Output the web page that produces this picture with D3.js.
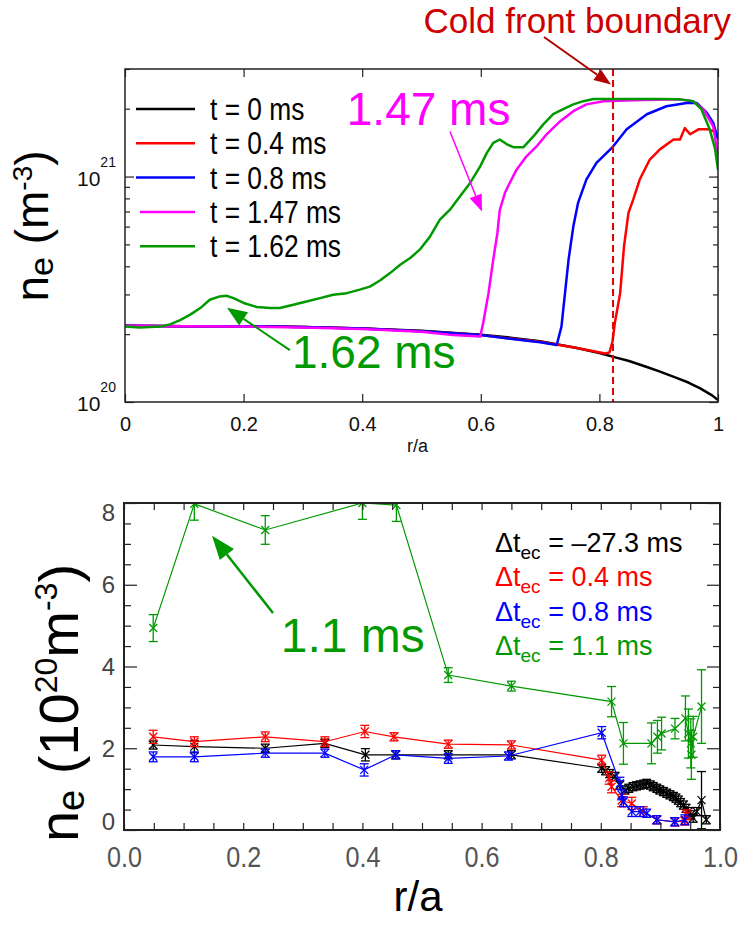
<!DOCTYPE html>
<html><head><meta charset="utf-8">
<script src="https://cdn.jsdelivr.net/npm/d3@7"></script>
<style>
body{margin:0;background:#fff;}
svg{display:block;font-family:"Liberation Sans",Arial,Helvetica,sans-serif;}
</style></head><body>
<svg id="c" width="739" height="925"></svg>
<script>
// ===================== DATA =====================
// Top panel: n_e profiles (units of 1e20 m^-3) vs r/a
const topNames  = ["t = 0 ms","t = 0.4 ms","t = 0.8 ms","t = 1.47 ms","t = 1.62 ms"];
const topColors = ["#000000","#ff0000","#0000ff","#ff00ff","#009a00"];
const ne_t0 = [[0,2.18],[0.1,2.17],[0.2,2.17],[0.3,2.15],[0.4,2.12],[0.5,2.07],[0.6,1.99],[0.65,1.93],[0.7,1.86],[0.73,1.80],[0.76,1.74],[0.8,1.65],[0.83,1.57],[0.85,1.52],[0.88,1.43],[0.9,1.37],[0.93,1.28],[0.95,1.22],[0.97,1.15],[0.99,1.07],[1.0,1.02]];
const ne_t04 = [[0,2.18],[0.1,2.17],[0.2,2.17],[0.3,2.15],[0.4,2.12],[0.5,2.06],[0.6,1.98],[0.7,1.85],[0.76,1.74],[0.81,1.64],[0.817,1.66],[0.822,1.85],[0.826,2.24],[0.835,3.04],[0.8415,4.9],[0.849,6.9],[0.857,7.9],[0.868,9.7],[0.885,11.9],[0.902,13.2],[0.925,14.6],[0.936,14.6],[0.944,16.4],[0.953,15.4],[0.967,16.2],[0.984,16.2],[0.992,15.9],[1.0,15.1]];
const ne_t08 = [[0,2.18],[0.1,2.17],[0.2,2.17],[0.3,2.15],[0.4,2.12],[0.5,2.06],[0.6,1.98],[0.7,1.84],[0.728,1.79],[0.736,2.16],[0.742,3.04],[0.748,4.28],[0.756,6.0],[0.764,7.64],[0.778,9.7],[0.795,11.5],[0.821,13.4],[0.846,16.2],[0.88,18.9],[0.913,20.5],[0.947,21.2],[0.964,21.2],[0.981,19.2],[0.992,17.3],[1.0,14.6]];
const ne_t147 = [[0,2.18],[0.1,2.17],[0.2,2.16],[0.3,2.14],[0.4,2.11],[0.5,2.05],[0.553,1.98],[0.599,1.95],[0.604,2.24],[0.613,3.04],[0.621,4.28],[0.628,5.62],[0.632,7.1],[0.641,8.5],[0.646,9.06],[0.66,10.7],[0.677,12.3],[0.694,13.6],[0.711,15.4],[0.734,17.6],[0.756,19.5],[0.778,20.9],[0.807,21.6],[0.857,21.8],[0.936,22.0],[0.958,21.6],[0.975,19.9],[0.992,16.7],[1.0,12.3]];
const ne_t162 = [[0,2.16],[0.025,2.14],[0.059,2.16],[0.076,2.21],[0.093,2.31],[0.11,2.44],[0.127,2.61],[0.143,2.84],[0.16,2.94],[0.171,2.96],[0.183,2.89],[0.2,2.75],[0.222,2.64],[0.245,2.61],[0.261,2.61],[0.284,2.70],[0.306,2.79],[0.329,2.89],[0.351,2.99],[0.374,3.04],[0.396,3.15],[0.413,3.25],[0.43,3.46],[0.447,3.73],[0.464,4.06],[0.481,4.35],[0.497,4.74],[0.514,5.4],[0.531,6.44],[0.548,7.13],[0.565,8.17],[0.582,9.37],[0.599,11.1],[0.61,12.7],[0.621,14.1],[0.632,14.6],[0.644,13.9],[0.655,13.5],[0.672,13.5],[0.689,15.1],[0.705,17.0],[0.722,18.9],[0.739,19.9],[0.756,20.9],[0.773,21.6],[0.79,22.1],[0.902,22.1],[0.936,22.0],[0.958,21.6],[0.972,19.9],[0.986,16.2],[0.995,13.3],[1.0,10.7]];
const topSeries = [ne_t0, ne_t04, ne_t08, ne_t147, ne_t162];
const topXTicks = [0,0.2,0.4,0.6,0.8,1];
const topYMajor = [1,10];
const topYMinor = [2,3,4,5,6,7,8,9,20,30];
const coldFront = 0.823;

// Bottom panel: [r/a, n_e (1e20 m^-3), error]
const botNames  = ["–27.3 ms","0.4 ms","0.8 ms","1.1 ms"];
const botColors = ["#000000","#ff0000","#0000ff","#009a00"];
const nb_black = [[0.049,2.08,0.1],[0.118,2.04,0.15],[0.237,2.0,0.1],[0.337,2.12,0.1],[0.405,1.84,0.15],[0.456,1.84,0.1],[0.544,1.84,0.1],[0.650,1.84,0.1],[0.8015,1.51,0.1],[0.808,1.45,0.1],[0.815,1.38,0.1],[0.824,1.31,0.1],[0.832,1.1,0.1],[0.8406,0.98,0.1],[0.847,1.02,0.1],[0.854,1.06,0.1],[0.860,1.08,0.1],[0.866,1.1,0.1],[0.872,1.12,0.1],[0.877,1.14,0.1],[0.883,1.1,0.1],[0.888,1.06,0.1],[0.894,1.02,0.1],[0.899,0.98,0.1],[0.905,0.94,0.1],[0.9105,0.9,0.1],[0.916,0.86,0.1],[0.9217,0.82,0.1],[0.926,0.78,0.1],[0.930,0.73,0.1],[0.934,0.67,0.1],[0.9385,0.61,0.1],[0.943,0.53,0.1],[0.947,0.45,0.1],[0.951,0.37,0.1],[0.955,0.29,0.1],[0.961,0.45,0.1],[0.969,0.73,0.7],[0.977,0.25,0.1]];
const nb_red = [[0.049,2.28,0.16],[0.118,2.16,0.12],[0.237,2.28,0.12],[0.337,2.16,0.12],[0.404,2.41,0.15],[0.453,2.28,0.1],[0.544,2.10,0.1],[0.650,2.08,0.1],[0.8015,1.71,0.12],[0.814,1.27,0.15],[0.818,1.06,0.15],[0.835,0.72,0.15],[0.852,0.65,0.15],[0.871,0.45,0.12],[0.894,0.25,0.1],[0.9245,0.2,0.1],[0.941,0.22,0.1],[0.944,0.37,0.12]];
const nb_blue = [[0.049,1.79,0.12],[0.118,1.79,0.12],[0.237,1.88,0.1],[0.337,1.88,0.1],[0.403,1.47,0.15],[0.456,1.84,0.1],[0.544,1.75,0.12],[0.645,1.81,0.1],[0.8015,2.38,0.15],[0.832,1.14,0.15],[0.835,0.86,0.12],[0.838,0.69,0.12],[0.852,0.45,0.12],[0.866,0.45,0.12],[0.877,0.41,0.1],[0.894,0.25,0.1],[0.924,0.2,0.1],[0.941,0.25,0.12]];
const nb_green = [[0.049,4.94,0.33],[0.118,7.98,0.4],[0.237,7.34,0.35],[0.40,8.0,0.4],[0.457,7.95,0.4],[0.544,3.79,0.18],[0.650,3.52,0.12],[0.818,3.14,0.37],[0.838,2.12,0.51],[0.885,2.12,0.5],[0.895,2.28,0.4],[0.902,2.36,0.4],[0.9245,2.48,0.25],[0.942,2.73,0.55],[0.947,2.36,0.6],[0.951,2.12,0.6],[0.952,1.84,0.6],[0.955,2.28,0.5],[0.969,3.02,0.9]];
const botSeries = [nb_black, nb_red, nb_blue, nb_green];
const botXLabels = [0,0.2,0.4,0.6,0.8,1.0];
const botYLabels = [0,2,4,6,8];

// ===================== DRAW =====================
const FONT = '"Liberation Sans", Arial, Helvetica, sans-serif';
const svg = d3.select("#c");
const defs = svg.append("defs");

function arrow(g,x1,y1,x2,y2,color,w,hl,hw){
  const a = Math.atan2(y2-y1,x2-x1);
  const bx = x2-hl*Math.cos(a), by = y2-hl*Math.sin(a);
  g.append("line").attr("x1",x1).attr("y1",y1).attr("x2",bx).attr("y2",by)
    .attr("stroke",color).attr("stroke-width",w);
  const px = -Math.sin(a)*hw/2, py = Math.cos(a)*hw/2;
  g.append("polygon").attr("points",`${x2},${y2} ${bx+px},${by+py} ${bx-px},${by-py}`).attr("fill",color);
}
function cleanAxis(g){
  g.select(".domain").remove();
  g.selectAll(".tick line").attr("stroke","#222").attr("stroke-width",1.2);
  g.attr("font-family",FONT);
}

// ---------- TOP PANEL ----------
const xT = d3.scaleLinear().domain([0,1]).range([125,718]);
const yT = d3.scaleLog().domain([1,30]).range([402,69]);
defs.append("clipPath").attr("id","clipT").append("rect")
  .attr("x",125).attr("y",69).attr("width",593).attr("height",333);

const lineT = d3.line().x(d=>xT(d[0])).y(d=>yT(d[1]));
const gTop = svg.append("g");
const gCurves = gTop.append("g").attr("clip-path","url(#clipT)");
topSeries.forEach((s,i)=>{
  gCurves.append("path").datum(s).attr("d",lineT).attr("fill","none")
    .attr("stroke",topColors[i]).attr("stroke-width",2.5).attr("stroke-linejoin","round");
});
// cold front dashed line
gTop.append("line").attr("x1",xT(coldFront)).attr("x2",xT(coldFront))
  .attr("y1",yT.range()[1]).attr("y2",yT.range()[0])
  .attr("stroke","#dd0000").attr("stroke-width",2).attr("stroke-dasharray","7,4");

// axes
let a;
a = gTop.append("g").attr("transform",`translate(0,${yT.range()[0]})`)
  .call(d3.axisBottom(xT).tickValues(topXTicks).tickSizeInner(-8).tickSizeOuter(0).tickFormat(d3.format("")));
cleanAxis(a);
a.selectAll("text").attr("y",29).attr("dy",null).attr("font-size",20).attr("fill","#111");
a = gTop.append("g").attr("transform",`translate(0,${yT.range()[1]})`)
  .call(d3.axisTop(xT).tickValues(topXTicks).tickSizeInner(-8).tickSizeOuter(0).tickFormat(""));
cleanAxis(a);
[[d3.axisLeft,xT.range()[0]],[d3.axisRight,xT.range()[1]]].forEach(([fn,xp])=>{
  let g1 = gTop.append("g").attr("transform",`translate(${xp},0)`)
    .call(fn(yT).tickValues(topYMajor).tickSizeInner(-9).tickSizeOuter(0).tickFormat(""));
  cleanAxis(g1);
  let g2 = gTop.append("g").attr("transform",`translate(${xp},0)`)
    .call(fn(yT).tickValues(topYMinor).tickSizeInner(-5).tickSizeOuter(0).tickFormat(""));
  cleanAxis(g2);
});
gTop.append("rect").attr("x",125).attr("y",69).attr("width",593).attr("height",333)
  .attr("fill","none").attr("stroke","#222").attr("stroke-width",1.5);
// y labels 10^20, 10^21
topYMajor.forEach(v=>{
  const t = gTop.append("text").attr("x",77).attr("y",yT(v)+9).attr("font-size",21).attr("fill","#111");
  t.append("tspan").text("10");
  t.append("tspan").attr("font-size",14).attr("dy",-19).text(String(20+Math.round(Math.log10(v))));
});
gTop.append("text").attr("x",(xT.range()[0]+xT.range()[1])/2-4).attr("y",452).attr("text-anchor","middle")
  .attr("font-size",18).attr("fill","#111").text("r/a");
// y title
{
  const t = gTop.append("text").attr("transform","translate(48,226) rotate(-90)")
    .attr("text-anchor","middle").attr("font-size",46).attr("fill","#000");
  t.append("tspan").text("n");
  t.append("tspan").attr("font-size",34).attr("dy",5).text("e");
  t.append("tspan").attr("dy",-5).text(" (m");
  t.append("tspan").attr("font-size",28).attr("dy",-16).text("-3");
  t.append("tspan").attr("dy",16).text(")");
}
// legend
topNames.forEach((n,i)=>{
  const yy = 109 + i*34.3;
  gTop.append("line").attr("x1",i>=3?140:136).attr("x2",195).attr("y1",yy).attr("y2",yy)
    .attr("stroke",topColors[i]).attr("stroke-width",2.5);
  gTop.append("text").attr("transform",`translate(210,${yy+11}) scale(0.85,1)`)
    .attr("font-size",31).attr("fill","#000").text(n);
});
// annotations
gTop.append("text").attr("x",xT(0.374)).attr("y",yT(17.0)).attr("font-size",46).attr("fill","#ff00ff").text("1.47 ms");
arrow(gTop,xT(0.548),yT(15.85),xT(0.602),yT(6.99),"#ff00ff",1.5,17,13);
gTop.append("text").attr("x",xT(0.2816)).attr("y",yT(1.416)).attr("font-size",46).attr("fill","#009a00").text("1.62 ms");
arrow(gTop,xT(0.278),yT(1.70),xT(0.172),yT(2.62),"#009a00",2,20,16);
gTop.append("text").attr("x",731).attr("y",33).attr("text-anchor","end").attr("font-size",35)
  .attr("fill","#cc0000").text("Cold front boundary");
arrow(gTop,544,37,xT(0.8196),yT(25.6),"#b00000",2,17,13);

// ---------- BOTTOM PANEL ----------
const xB = d3.scaleLinear().domain([0,1]).range([124,720]);
const yB = d3.scaleLinear().domain([0,8]).range([830,503]);
defs.append("clipPath").attr("id","clipB").append("rect")
  .attr("x",124).attr("y",503).attr("width",596).attr("height",327);
const gBot = svg.append("g");
const lineB = d3.line().x(d=>xB(d[0])).y(d=>yB(d[1]));
const gData = gBot.append("g").attr("clip-path","url(#clipB)");
botSeries.forEach((s,i)=>{
  const c = botColors[i];
  const g = gData.append("g");
  g.append("path").datum(s).attr("d",lineB).attr("fill","none").attr("stroke",c).attr("stroke-width",1.2);
  const p = g.selectAll("g.pt").data(s).join("g").attr("class","pt")
    .attr("transform",d=>`translate(${xB(d[0])},${yB(d[1])})`);
  p.append("line").attr("x1",0).attr("x2",0)
    .attr("y1",d=>yB(d[1]+d[2])-yB(d[1])).attr("y2",d=>yB(d[1]-d[2])-yB(d[1]))
    .attr("stroke",c).attr("stroke-width",1.3);
  [1,-1].forEach(sg=>{
    p.append("line").attr("x1",-4.5).attr("x2",4.5)
      .attr("y1",d=>yB(d[1]+sg*d[2])-yB(d[1])).attr("y2",d=>yB(d[1]+sg*d[2])-yB(d[1]))
      .attr("stroke",c).attr("stroke-width",1.3);
  });
  p.append("path").attr("d","M-4,-4L4,4M-4,4L4,-4").attr("stroke",c).attr("stroke-width",1.3);
});
// axes
const botXMinor = d3.range(0,1.0001,0.05);
a = gBot.append("g").attr("transform",`translate(0,${yB.range()[0]})`)
  .call(d3.axisBottom(xB).tickValues(botXMinor).tickSizeInner(-7).tickSizeOuter(0).tickFormat(""));
cleanAxis(a);
a = gBot.append("g").attr("transform",`translate(0,${yB.range()[1]})`)
  .call(d3.axisTop(xB).tickValues(botXMinor).tickSizeInner(-7).tickSizeOuter(0).tickFormat(""));
cleanAxis(a);
a = gBot.append("g").attr("transform",`translate(0,${yB.range()[0]})`)
  .call(d3.axisBottom(xB).tickValues(botXLabels).tickSizeInner(0).tickSizeOuter(0).tickFormat(d3.format(".1f")));
cleanAxis(a);
a.selectAll("text").attr("y",0).attr("dy",null).attr("transform","translate(0,37) scale(0.84,1)")
  .attr("font-size",30).attr("fill","#555");
const botYMinor = d3.range(0,8.001,0.5).filter(v=>v%2!==0);
[[d3.axisLeft,xB.range()[0]],[d3.axisRight,xB.range()[1]]].forEach(([fn,xp])=>{
  let g1 = gBot.append("g").attr("transform",`translate(${xp},0)`)
    .call(fn(yB).tickValues(botYLabels).tickSizeInner(-13).tickSizeOuter(0).tickFormat(""));
  cleanAxis(g1);
  let g2 = gBot.append("g").attr("transform",`translate(${xp},0)`)
    .call(fn(yB).tickValues(botYMinor).tickSizeInner(-7).tickSizeOuter(0).tickFormat(""));
  cleanAxis(g2);
});
gBot.append("rect").attr("x",124).attr("y",503).attr("width",596).attr("height",327)
  .attr("fill","none").attr("stroke","#222").attr("stroke-width",2);
botYLabels.forEach(v=>{
  const yy = Math.min(Math.max(yB(v),512),821);
  gBot.append("text").attr("x",115).attr("y",yy+8.5).attr("text-anchor","end")
    .attr("font-size",24).attr("fill","#444").text(v);
});
gBot.append("text").attr("x",418).attr("y",911).attr("text-anchor","middle")
  .attr("font-size",42).attr("fill","#000").text("r/a");
{
  const t = gBot.append("text").attr("transform","translate(78,703) rotate(-90)")
    .attr("text-anchor","middle").attr("font-size",56).attr("fill","#000");
  t.append("tspan").text("n");
  t.append("tspan").attr("font-size",38).attr("dy",6).text("e");
  t.append("tspan").attr("dy",-6).text(" (10");
  t.append("tspan").attr("font-size",32).attr("dy",-21).text("20");
  t.append("tspan").attr("dy",21).text("m");
  t.append("tspan").attr("font-size",32).attr("dy",-21).text("-3");
  t.append("tspan").attr("dy",21).text(")");
}
// legend
botNames.forEach((n,i)=>{
  const t = gBot.append("text").attr("x",495).attr("y",552+i*34.3).attr("font-size",27).attr("fill",botColors[i]);
  t.append("tspan").text("Δt");
  t.append("tspan").attr("font-size",19).attr("dy",7).text("ec");
  t.append("tspan").attr("dy",-7).text(" = "+n);
});
gBot.append("text").attr("x",xB(0.263)).attr("y",yB(4.36)).attr("font-size",48).attr("fill","#009a00").text("1.1 ms");
arrow(gBot,xB(0.25),yB(5.31),xB(0.1477),yB(7.2),"#009a00",2.5,24,18);
</script>
</body></html>
